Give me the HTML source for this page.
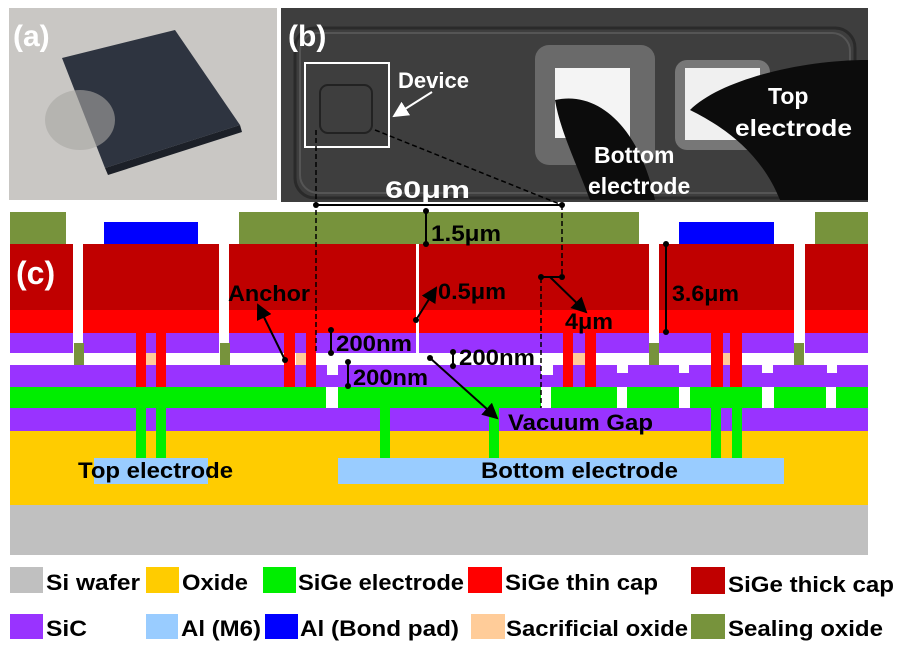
<!DOCTYPE html>
<html><head><meta charset="utf-8"><style>
html,body{margin:0;padding:0;background:#fff;}
svg{display:block;font-family:"Liberation Sans",Arial,sans-serif;font-weight:bold;}
</style></head><body>
<svg width="899" height="647" viewBox="0 0 899 647" xmlns="http://www.w3.org/2000/svg">
<defs>
<marker id="ah" markerWidth="8" markerHeight="8" refX="7" refY="4" orient="auto"><path d="M0,0 L8,4 L0,8 z" fill="#000"/></marker>
<marker id="ahw" markerWidth="8" markerHeight="8" refX="7" refY="4" orient="auto"><path d="M0,0 L8,4 L0,8 z" fill="#fff"/></marker>
</defs>
<!-- panel a -->
<rect x="9" y="8" width="268" height="192" fill="#c9c7c4"/>
<polygon points="62,58 175,30 240,125 105,168" fill="#2e3440"/>
<polygon points="105,168 240,125 242,132 108,175" fill="#1c2028"/>
<ellipse cx="80" cy="120" rx="35" ry="30" fill="#a9a7a3" opacity="0.6"/>
<text x="13" y="46" font-size="30" fill="#fff">(a)</text>
<!-- panel b -->
<rect x="281" y="8" width="587" height="194" fill="#3e3e3e"/>
<rect x="295" y="28" width="560" height="170" rx="20" fill="none" stroke="#2a2a2a" stroke-width="3"/>
<rect x="300" y="33" width="550" height="160" rx="18" fill="none" stroke="#555" stroke-width="2"/>
<rect x="320" y="85" width="52" height="48" rx="8" fill="none" stroke="#222" stroke-width="2"/>
<rect x="305" y="63" width="84" height="84" fill="none" stroke="#fff" stroke-width="2"/>
<rect x="535" y="45" width="120" height="120" rx="14" fill="#6a6a6a"/>
<rect x="555" y="68" width="75" height="70" fill="#f4f4f4"/>
<rect x="675" y="60" width="95" height="90" rx="12" fill="#777"/>
<rect x="685" y="68" width="75" height="72" fill="#f0f0f0"/>
<path d="M555,100 C600,90 640,130 655,200 L590,200 C575,160 560,130 555,100 z" fill="#0c0c0c"/>
<path d="M690,110 C720,80 800,60 868,60 L868,200 L780,200 C760,150 720,125 690,110 z" fill="#0c0c0c"/>
<text x="288" y="46" font-size="30" fill="#fff">(b)</text>
<text x="398" y="88" font-size="22" fill="#fff">Device</text>
<line x1="432" y1="92" x2="394" y2="116" stroke="#fff" stroke-width="2" marker-end="url(#ahw)"/>
<text x="594" y="163" font-size="23" fill="#fff">Bottom</text>
<text x="588" y="194" font-size="23" fill="#fff">electrode</text>
<text x="768" y="104" font-size="23" fill="#fff">Top</text>
<text x="735" y="136" font-size="23" fill="#fff" textLength="117" lengthAdjust="spacingAndGlyphs">electrode</text>
<text x="385" y="198" font-size="24" fill="#fff" textLength="85" lengthAdjust="spacingAndGlyphs">60μm</text>
<!-- cross-section -->
<rect x="10" y="505" width="858" height="50" fill="#c0c0c0"/>
<rect x="10" y="431" width="858" height="74" fill="#ffcc00"/>
<rect x="94" y="458" width="114" height="26" fill="#99ccff"/>
<rect x="338" y="458" width="446" height="26" fill="#99ccff"/>
<rect x="10" y="408" width="858" height="23" fill="#9933ff"/>
<rect x="10" y="365" width="858" height="22" fill="#9933ff"/>
<g fill="#fff">
<rect x="327" y="365" width="11" height="10"/><rect x="541" y="365" width="12" height="10"/>
<rect x="617" y="365" width="11" height="8"/><rect x="679" y="365" width="10" height="8"/>
<rect x="762" y="365" width="11" height="8"/><rect x="827" y="365" width="10" height="8"/>
</g>
<g fill="#9933ff">
<rect x="326" y="375" width="12" height="12"/><rect x="541" y="375" width="12" height="12"/>
</g>
<g fill="#00ee00">
<rect x="10" y="387" width="316" height="21"/><rect x="338" y="387" width="203" height="21"/>
<rect x="551" y="387" width="66" height="21"/><rect x="627" y="387" width="52" height="21"/>
<rect x="690" y="387" width="72" height="21"/><rect x="774" y="387" width="52" height="21"/>
<rect x="836" y="387" width="32" height="21"/>
<rect x="136" y="408" width="10" height="50"/><rect x="156" y="408" width="10" height="50"/>
<rect x="380" y="408" width="10" height="50"/><rect x="489" y="408" width="10" height="50"/>
<rect x="711" y="408" width="10" height="50"/><rect x="732" y="408" width="10" height="50"/>
</g>
<g fill="#9933ff">
<rect x="10" y="333" width="63" height="20"/><rect x="83" y="333" width="136" height="20"/>
<rect x="229" y="333" width="420" height="20"/><rect x="659" y="333" width="135" height="20"/>
<rect x="805" y="333" width="63" height="20"/>
</g>
<g fill="#ff0000">
<rect x="10" y="310" width="63" height="23"/><rect x="83" y="310" width="136" height="23"/>
<rect x="229" y="310" width="420" height="23"/><rect x="659" y="310" width="135" height="23"/>
<rect x="805" y="310" width="63" height="23"/>
<rect x="136" y="333" width="10" height="54"/><rect x="156" y="333" width="10" height="54"/>
<rect x="284" y="333" width="11" height="54"/><rect x="306" y="333" width="10" height="54"/>
<rect x="563" y="333" width="10" height="54"/><rect x="585" y="333" width="11" height="54"/>
<rect x="711" y="333" width="12" height="54"/><rect x="730" y="333" width="12" height="54"/>
</g>
<g fill="#c00000">
<rect x="10" y="244" width="63" height="66"/><rect x="83" y="244" width="136" height="66"/>
<rect x="229" y="244" width="420" height="66"/><rect x="659" y="244" width="135" height="66"/>
<rect x="805" y="244" width="63" height="66"/>
</g>
<rect x="416" y="244" width="3" height="109" fill="#fff"/>
<g fill="#ffcc99">
<rect x="146" y="353" width="10" height="12"/><rect x="296" y="353" width="10" height="12"/>
<rect x="573" y="353" width="12" height="12"/><rect x="723" y="353" width="7" height="12"/>
</g>
<g fill="#77933c">
<rect x="10" y="212" width="56" height="32"/><rect x="239" y="212" width="400" height="32"/>
<rect x="815" y="212" width="53" height="32"/>
<rect x="74" y="343" width="10" height="22"/><rect x="220" y="343" width="10" height="22"/>
<rect x="649" y="343" width="10" height="22"/><rect x="794" y="343" width="10" height="22"/>
</g>
<g fill="#0000ff">
<rect x="104" y="222" width="94" height="22"/><rect x="679" y="222" width="95" height="22"/>
</g>
<text x="16" y="284" font-size="32" fill="#fff">(c)</text>
<!-- annotations -->
<g stroke="#000" stroke-width="1.5" stroke-dasharray="5,3" fill="none">
<line x1="316" y1="130" x2="316" y2="353"/>
<line x1="375" y1="130" x2="562" y2="205"/>
<line x1="562" y1="205" x2="562" y2="278"/>
<line x1="541" y1="278" x2="541" y2="408"/>
</g>
<g stroke="#000" stroke-width="2" fill="none">
<line x1="316" y1="205" x2="562" y2="205"/>
<line x1="426" y1="211" x2="426" y2="244"/>
<line x1="541" y1="277" x2="562" y2="277"/>
<line x1="666" y1="244" x2="666" y2="332"/>
<line x1="331" y1="330" x2="331" y2="353"/>
<line x1="348" y1="362" x2="348" y2="386"/>
<line x1="453" y1="352" x2="453" y2="366"/>
<line x1="550" y1="277" x2="586" y2="312" marker-end="url(#ah)"/>
<line x1="416" y1="320" x2="436" y2="288" marker-end="url(#ah)"/>
<line x1="285" y1="360" x2="258" y2="305" marker-end="url(#ah)"/>
<line x1="430" y1="358" x2="497" y2="418" marker-end="url(#ah)"/>
</g>
<g fill="#000">
<circle cx="316" cy="205" r="3"/><circle cx="562" cy="205" r="3"/>
<circle cx="426" cy="211" r="3"/><circle cx="426" cy="244" r="3"/>
<circle cx="541" cy="277" r="3"/><circle cx="562" cy="277" r="3"/>
<circle cx="666" cy="244" r="3"/><circle cx="666" cy="332" r="3"/>
<circle cx="331" cy="330" r="3"/><circle cx="331" cy="353" r="3"/>
<circle cx="348" cy="362" r="3"/><circle cx="348" cy="386" r="3"/>
<circle cx="453" cy="352" r="3"/><circle cx="453" cy="366" r="3"/>
<circle cx="416" cy="320" r="3"/><circle cx="285" cy="360" r="3"/><circle cx="430" cy="358" r="3"/>
</g>
<g font-size="22" fill="#000">
<text x="431" y="241" textLength="70" lengthAdjust="spacingAndGlyphs">1.5μm</text>
<text x="438" y="299" textLength="68" lengthAdjust="spacingAndGlyphs">0.5μm</text>
<text x="228" y="301" textLength="82" lengthAdjust="spacingAndGlyphs">Anchor</text>
<text x="672" y="301" textLength="67" lengthAdjust="spacingAndGlyphs">3.6μm</text>
<text x="565" y="329" textLength="48" lengthAdjust="spacingAndGlyphs">4μm</text>
<text x="336" y="351" textLength="76" lengthAdjust="spacingAndGlyphs">200nm</text>
<text x="353" y="385" textLength="75" lengthAdjust="spacingAndGlyphs">200nm</text>
<text x="459" y="365" textLength="76" lengthAdjust="spacingAndGlyphs">200nm</text>
<text x="508" y="430" textLength="145" lengthAdjust="spacingAndGlyphs">Vacuum Gap</text>
<text x="78" y="478" textLength="155" lengthAdjust="spacingAndGlyphs">Top electrode</text>
<text x="481" y="478" textLength="197" lengthAdjust="spacingAndGlyphs">Bottom electrode</text>
</g>
<!-- legend -->
<g>
<rect x="10" y="567" width="33" height="26" fill="#c0c0c0"/>
<rect x="146" y="567" width="33" height="26" fill="#ffcc00"/>
<rect x="263" y="567" width="33" height="26" fill="#00ee00"/>
<rect x="468" y="567" width="34" height="26" fill="#ff0000"/>
<rect x="691" y="567" width="34" height="27" fill="#c00000"/>
<rect x="10" y="614" width="33" height="25" fill="#9933ff"/>
<rect x="146" y="614" width="32" height="25" fill="#99ccff"/>
<rect x="265" y="614" width="33" height="25" fill="#0000ff"/>
<rect x="471" y="614" width="34" height="25" fill="#ffcc99"/>
<rect x="691" y="614" width="34" height="25" fill="#77933c"/>
</g>
<g font-size="22" fill="#000">
<text x="46" y="590" textLength="94" lengthAdjust="spacingAndGlyphs">Si wafer</text>
<text x="182" y="590" textLength="66" lengthAdjust="spacingAndGlyphs">Oxide</text>
<text x="298" y="590" textLength="166" lengthAdjust="spacingAndGlyphs">SiGe electrode</text>
<text x="505" y="590" textLength="153" lengthAdjust="spacingAndGlyphs">SiGe thin cap</text>
<text x="728" y="592" textLength="166" lengthAdjust="spacingAndGlyphs">SiGe thick cap</text>
<text x="46" y="636" textLength="41" lengthAdjust="spacingAndGlyphs">SiC</text>
<text x="181" y="636" textLength="80" lengthAdjust="spacingAndGlyphs">Al (M6)</text>
<text x="300" y="636" textLength="159" lengthAdjust="spacingAndGlyphs">Al (Bond pad)</text>
<text x="506" y="636" textLength="182" lengthAdjust="spacingAndGlyphs">Sacrificial oxide</text>
<text x="728" y="636" textLength="155" lengthAdjust="spacingAndGlyphs">Sealing oxide</text>
</g>
</svg>
</body></html>
